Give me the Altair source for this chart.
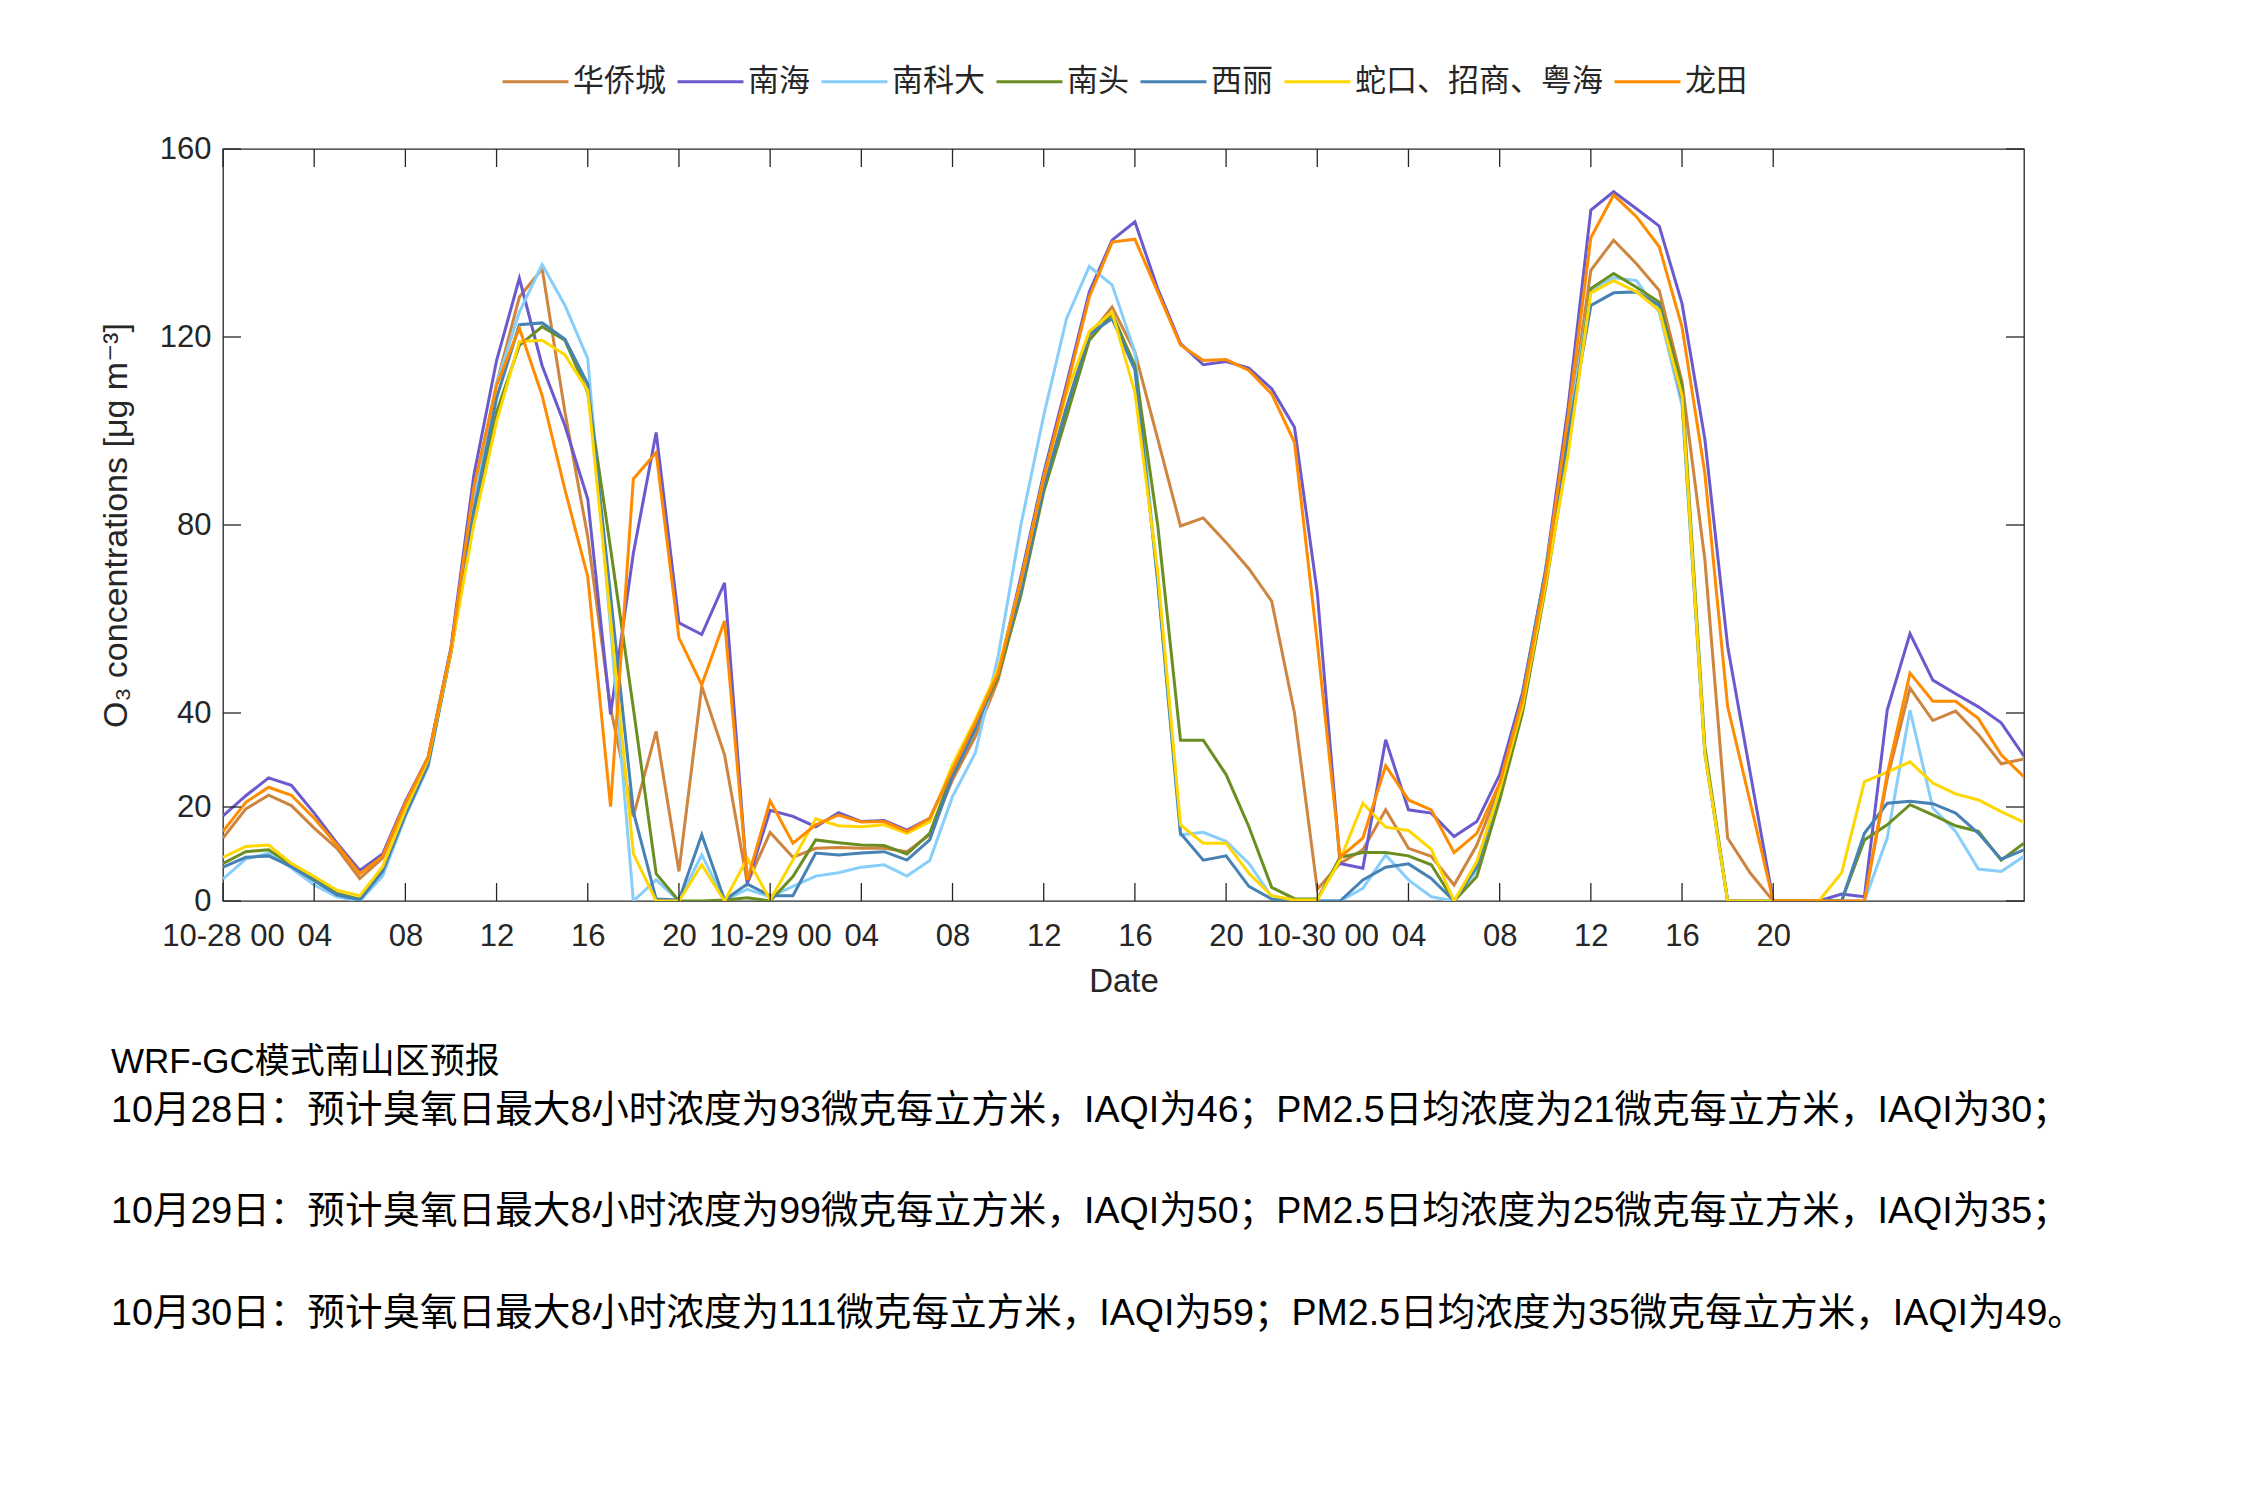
import altair as alt
import pandas as pd

# ---------------- data ----------------
hours = list(range(80))  # 10-28 00:00 ... 10-31 07:00, hourly

station_names = ["华侨城", "南海", "南科大", "南头", "西丽", "蛇口、招商、粤海", "龙田"]
station_colors = ["#CD853F", "#6A5ACD", "#87CEFA", "#6B8E23", "#4682B4", "#FFD700", "#FF8C00"]

huaqiaocheng = [13.4, 19.6, 22.5, 20.3, 15.5, 11.2, 4.8, 9.1, 20.8, 30.6,
                53.3, 87, 110, 128.5, 134.5, 104, 77.5, 41, 18, 36.1,
                6.3, 45.7, 31.1, 3.8, 14.6, 9.3, 11.2, 11.4, 11.2, 11.2,
                10.5, 14.1, 25.8, 35, 47, 66, 88, 105, 120.3, 126.4,
                116.8, 98.3, 79.8, 81.5, 76.3, 70.7, 63.8, 40, 2.5, 8.0,
                10.9, 19.4, 11.2, 9.5, 3.4, 11.9, 24.4, 43, 68, 100,
                134.2, 140.6, 135.6, 129.9, 110.4, 72.7, 13.4, 5.9, 0, 0,
                0, 0, 0, 26, 45.3, 38.4, 40.4, 35.4, 29.2, 30.2]
nanhai = [18.1, 22.4, 26.2, 24.6, 18.7, 12.3, 6.5, 10.0, 21.2, 30.6,
          54, 90.5, 115, 132.5, 113.9, 101.1, 85.5, 39.7, 74, 99.7,
          59.2, 56.7, 67.7, 3.8, 19.3, 18, 15.8, 18.8, 16.9, 17.1,
          15.1, 17.6, 28, 38, 48.5, 69, 91, 110, 129.6, 140.6,
          144.5, 130.3, 118.6, 114.1, 114.8, 113.4, 109, 100.8, 65.6, 8.0,
          7.0, 34.3, 19.4, 18.7, 13.7, 16.9, 26.9, 44.3, 70, 105,
          147, 150.9, 147.3, 143.6, 127.1, 98.3, 54.2, 27, 0, 0,
          0, 1.5, 0.9, 40.6, 56.9, 47, 44.1, 41.3, 37.9, 30.8]
nankeda = [4.7, 8.9, 10.2, 7.0, 3.4, 0.9, 0, 5.3, 18, 28.6,
           53, 86, 110, 125.3, 135.4, 126.7, 115.4, 58, 0, 4.5,
           0, 9.8, 0.2, 2.5, 0.9, 3.1, 5.3, 6.0, 7.2, 7.7,
           5.3, 8.6, 22.2, 31.5, 52, 80, 103.3, 123.9, 135, 131.1,
           116.8, 68, 14.1, 14.6, 12.7, 8.0, 0.9, 0, 0, 0,
           2.7, 9.8, 4.5, 0.9, 0, 6.6, 23, 43, 70, 100,
           130, 132.6, 132, 125.3, 105.4, 31.5, 0, 0, 0, 0,
           0, 0, 0, 13.4, 40.6, 19.8, 14.8, 6.8, 6.3, 9.5]
nantou = [8.0, 10.5, 10.9, 7.7, 4.8, 1.6, 0.4, 6.6, 18.7, 29.4,
          53, 82, 104, 118.2, 122.2, 119.3, 108.2, 75, 41, 5.8,
          0, 0, 0.2, 0.7, 0, 5.2, 13, 12.4, 11.9, 11.8,
          10, 14.4, 27.2, 37.2, 47.8, 65, 87, 103, 119.3, 125,
          113.9, 80, 34.2, 34.2, 26.9, 15.8, 2.9, 0.5, 0.4, 9.3,
          10.3, 10.3, 9.6, 7.7, 0, 5.2, 21.5, 40, 66.3, 96,
          130.3, 133.5, 130.6, 127.4, 109.7, 32.9, 0, 0, 0, 0,
          0, 0, 13, 16.2, 20.5, 18.3, 16, 14.8, 8.7, 12.3]
xili = [7.2, 9.3, 9.6, 7.3, 4.3, 1.3, 0.2, 6.3, 18.3, 29,
        53, 83, 107, 122.6, 123, 119.5, 110, 65, 19, 0.4,
        0.2, 14.1, 0.2, 3.6, 1.1, 1.1, 10.2, 9.8, 10.2, 10.5,
        8.7, 13, 26.5, 36.5, 49, 66, 88, 105, 120.6, 123.9,
        113, 68, 14.4, 8.7, 9.6, 3.1, 0.4, 0, 0, 0,
        4.5, 7.2, 7.9, 4.8, 0, 7.3, 24.4, 43.6, 70, 99,
        126.7, 129.4, 129.6, 126.7, 106.8, 31.5, 0, 0, 0, 0,
        0, 0, 14.4, 20.8, 21.2, 20.7, 18.7, 14.4, 8.9, 10.9]
shekou = [9.3, 11.6, 11.9, 8.0, 5.2, 2.3, 1.1, 7.3, 19.4, 30.1,
          53, 80, 102, 119, 119.3, 116.2, 108.6, 60, 10.1, 0,
          0, 7.7, 0, 9.1, 0.2, 8.7, 17.5, 16, 15.8, 16.2,
          14.4, 16.9, 29, 38.6, 49.3, 68, 90, 108, 121.2, 125.3,
          108.2, 70, 16.2, 12.3, 12.3, 5.9, 1.1, 0.2, 0.2, 8.7,
          20.8, 15.7, 15, 11, 0, 8.4, 23.7, 41.4, 67, 95,
          129.4, 132, 129.6, 125.7, 107.5, 31.5, 0, 0, 0, 0,
          0, 6.0, 25.4, 27.4, 29.6, 25.1, 22.8, 21.5, 19, 16.7]
longtian = [14.8, 21, 24.2, 22.5, 17.6, 11.9, 5.8, 9.5, 20.8, 30.6,
            53.5, 88, 109.7, 121.9, 107.5, 87.5, 69, 20.1, 89.8, 95.4,
            56, 46, 59.6, 4.5, 21.3, 12.3, 16.2, 18.3, 16.8, 16.9,
            14.8, 17.6, 27.9, 37.9, 48.5, 68, 90, 109, 128.5, 140.2,
            140.8, 129.6, 118.3, 115, 115.2, 112.9, 107.9, 97.6, 55, 9.3,
            13.4, 28.8, 21.5, 19.4, 10.3, 14.4, 25.1, 42.9, 68.8, 103,
            141.1, 150.2, 145.6, 139.2, 122.1, 91, 41.4, 20.8, 0, 0,
            0, 0, 0, 27, 48.5, 42.5, 42.5, 38.8, 31.1, 26.4]

series = [huaqiaocheng, nanhai, nankeda, nantou, xili, shekou, longtian]

x_tick_values = list(range(0, 72, 4))
x_tick_labels = ["10-28 00", "04", "08", "12", "16", "20",
                 "10-29 00", "04", "08", "12", "16", "20",
                 "10-30 00", "04", "08", "12", "16", "20"]
y_tick_values = [0, 20, 40, 80, 120, 160]

notes = [
    "WRF-GC模式南山区预报",
    "10月28日：预计臭氧日最大8小时浓度为93微克每立方米，IAQI为46；PM2.5日均浓度为21微克每立方米，IAQI为30；",
    "10月29日：预计臭氧日最大8小时浓度为99微克每立方米，IAQI为50；PM2.5日均浓度为25微克每立方米，IAQI为35；",
    "10月30日：预计臭氧日最大8小时浓度为111微克每立方米，IAQI为59；PM2.5日均浓度为35微克每立方米，IAQI为49。",
]

# ---------------- layout / style ----------------
W, H = 1801, 752
PAD = {"left": 223, "top": 149, "right": 2250 - 223 - W, "bottom": 1500 - 149 - H}
INK = "#262626"
LATIN = "Liberation Sans"
CJK = "Liberation Sans, Noto Sans CJK SC"
TICK = 18

label_expr = "[" + ",".join("'%s'" % t for t in x_tick_labels) + "][round(datum.value / 4)]"

xscale = alt.Scale(domain=[0, 79], nice=False, zero=False)
yscale = alt.Scale(domain=[0, 160], nice=False, zero=False)
cscale = alt.Scale(domain=station_names, range=station_colors)

x_axis = alt.Axis(values=x_tick_values, labelExpr=label_expr, title="Date",
                  ticks=False, domain=False, grid=False, labelPadding=20,
                  labelFontSize=31, labelFont=LATIN, labelColor=INK,
                  titleFontSize=33, titleFont=LATIN, titleColor=INK,
                  titleFontWeight="normal", titlePadding=14, labelFlush=False,
                  labelOverlap=False)
y_axis = alt.Axis(values=y_tick_values, title="O₃ concentrations [μg m⁻³]",
                  ticks=False, domain=False, grid=False, labelPadding=12,
                  labelFontSize=31, labelFont=LATIN, labelColor=INK,
                  titleFontSize=34, titleFont="Liberation Sans, DejaVu Sans",
                  titleColor=INK, titleFontWeight="normal", titlePadding=26,
                  format="d", labelFlush=False)

legend = alt.Legend(title=None, orient="none", direction="horizontal",
                    legendX=278, legendY=-102, symbolType="stroke",
                    symbolSize=4356, symbolStrokeWidth=3,
                    labelFontSize=31, labelFont=CJK, labelColor=INK,
                    labelLimit=500, labelOffset=3, columnPadding=5,
                    symbolOffset=0, padding=0)

rows = []
for name, vals in zip(station_names, series):
    for h, v in zip(hours, vals):
        rows.append({"hour": h, "o3": v, "station": name})
df = pd.DataFrame(rows)

layers = []
for i, name in enumerate(station_names):
    layers.append(
        alt.Chart(df[df.station == name]).mark_line(strokeWidth=3, clip=True).encode(
            x=alt.X("hour:Q", scale=xscale, axis=x_axis),
            y=alt.Y("o3:Q", scale=yscale, axis=y_axis),
            color=alt.Color("station:N", scale=cscale, legend=legend,
                            sort=station_names),
        )
    )

xt = pd.DataFrame({"hour": x_tick_values})
yt = pd.DataFrame({"o3": y_tick_values})
tick_style = dict(color=INK, strokeWidth=1.3)
bottom_ticks = alt.Chart(xt).mark_rule(**tick_style).encode(
    x=alt.X("hour:Q", scale=xscale, axis=x_axis), y=alt.value(H), y2=alt.value(H - TICK))
top_ticks = alt.Chart(xt).mark_rule(**tick_style).encode(
    x=alt.X("hour:Q", scale=xscale, axis=x_axis), y=alt.value(0), y2=alt.value(TICK))
left_ticks = alt.Chart(yt).mark_rule(**tick_style).encode(
    y=alt.Y("o3:Q", scale=yscale, axis=y_axis), x=alt.value(0), x2=alt.value(TICK))
right_ticks = alt.Chart(yt).mark_rule(**tick_style).encode(
    y=alt.Y("o3:Q", scale=yscale, axis=y_axis), x=alt.value(W), x2=alt.value(W - TICK))

note_y = [913, 962, 1063, 1165]
note_size = [35, 37.6, 37.6, 37.6]
note_layers = []
for txt, yy, fs in zip(notes, note_y, note_size):
    note_layers.append(
        alt.Chart(pd.DataFrame({"t": [txt]})).mark_text(
            align="left", baseline="middle", font=CJK, fontSize=fs, color="#000000"
        ).encode(text="t:N", x=alt.value(-112), y=alt.value(yy))
    )

chart = alt.layer(
    *layers, bottom_ticks, top_ticks, left_ticks, right_ticks, *note_layers
).properties(
    width=W, height=H, autosize="none", padding=PAD, background="white"
).configure_view(
    stroke=INK, strokeWidth=1.3
)

chart.save("out.html", embed_options={"renderer": "svg", "actions": False})
